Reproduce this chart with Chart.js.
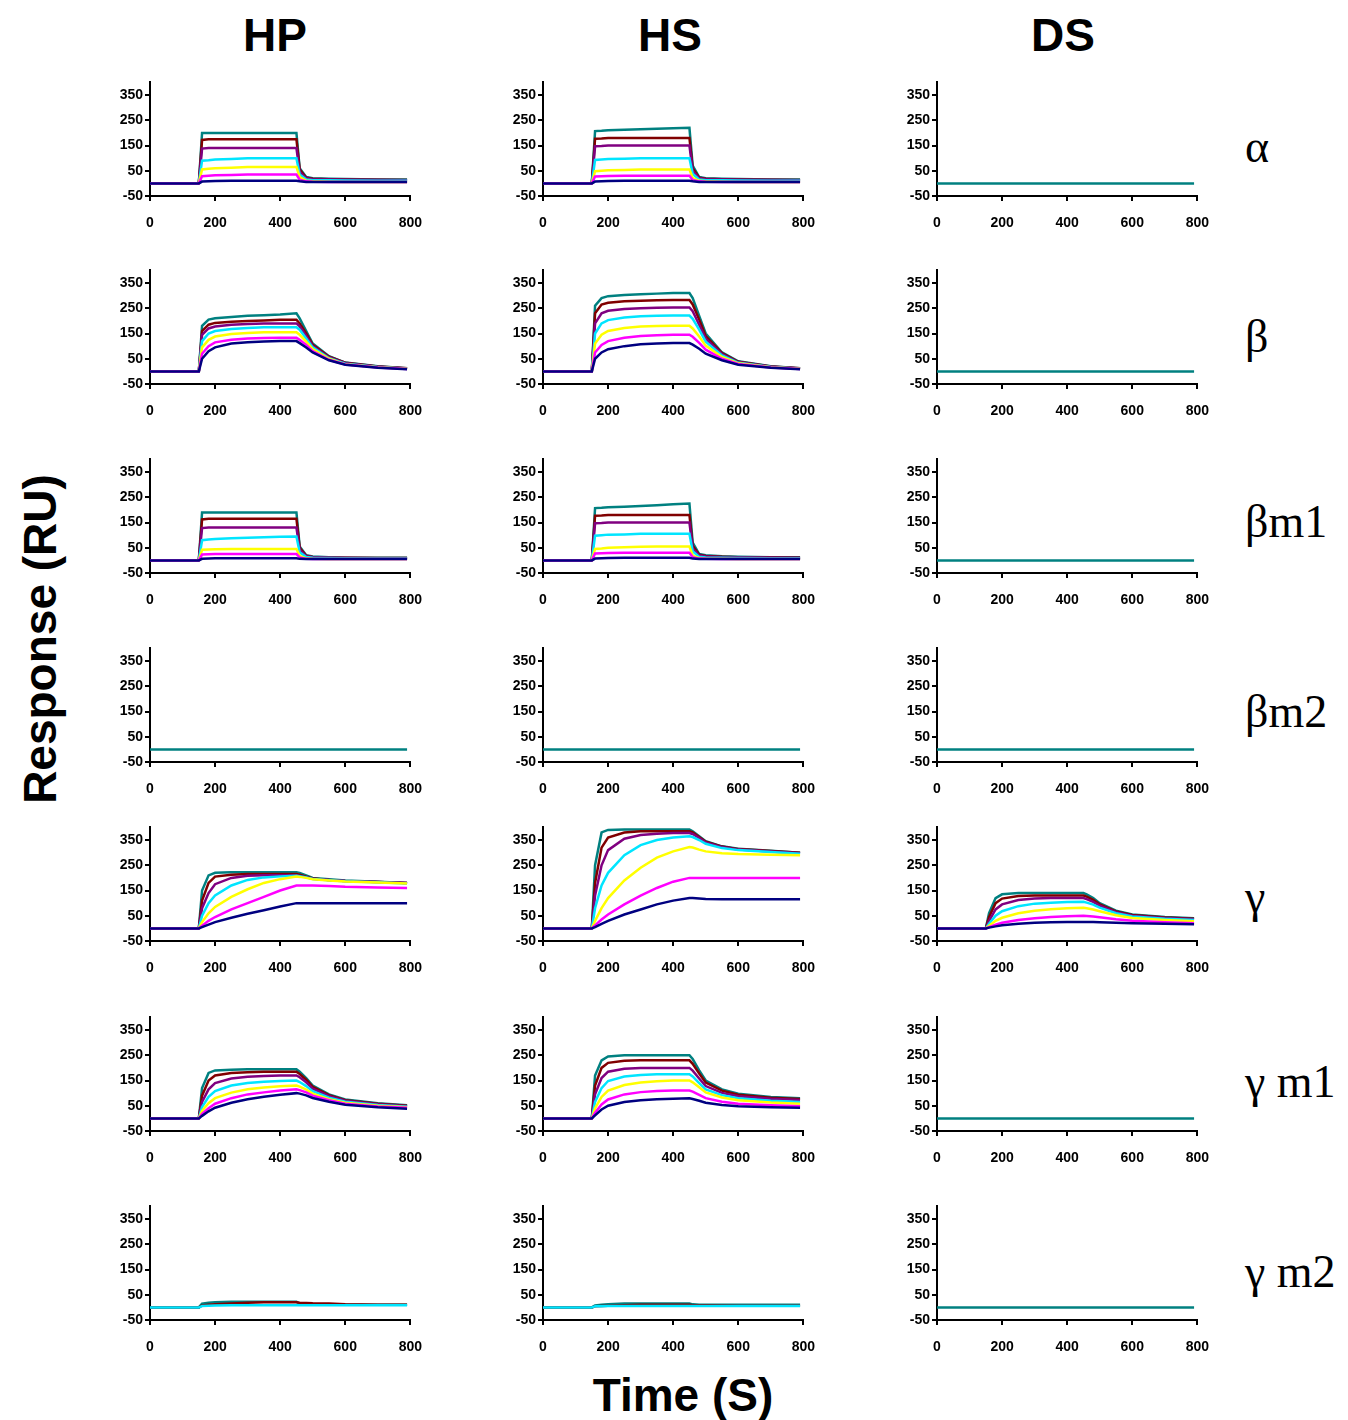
<!DOCTYPE html>
<html><head><meta charset="utf-8">
<script src="https://cdn.jsdelivr.net/npm/chart.js@4"></script>
<style>
body{margin:0;background:#fff;width:1348px;height:1420px;position:relative;overflow:hidden;font-family:"Liberation Sans",Arial,sans-serif}
canvas{position:absolute}
.t{position:absolute;font-weight:bold;font-size:46px;text-align:center;white-space:nowrap}
.g{position:absolute;font-family:"Liberation Serif","Times New Roman",serif;font-size:46px;white-space:nowrap}
</style></head><body>
<div class="t" style="left:195px;top:8px;width:160px">HP</div>
<div class="t" style="left:590px;top:8px;width:160px">HS</div>
<div class="t" style="left:983px;top:8px;width:160px">DS</div>
<div class="t" style="left:-170px;top:612px;width:420px;transform:rotate(-90deg)">Response (RU)</div>
<div class="t" style="left:533px;top:1368px;width:300px">Time (S)</div>
<script>
const T = [0,150,160,180,200,250,300,350,400,450,460,480,500,550,600,700,790];
const xTicks = [0,200,400,600,800];
const yTicks = [-50,50,150,250,350];
const colors = ['#008080','#800000','#800080','#00e5ff','#ffff00','#ff00ff','#000080'];
const rowLabels = ['α','β','βm1','βm2','γ','γ m1','γ m2'];
const flat = [[0,0,0,0,0,0,0,0,0,0,0,0,0,0,0,0,0]];

const alphaHP = [
 [0,0,200,200,200,200,200,200,200,200,60,25,20,18,17,15,15],
 [0,0,172,175,175,175,175,175,175,175,55,22,18,16,15,14,13],
 [0,0,138,140,140,140,140,140,140,140,45,20,16,15,14,13,12],
 [0,0,90,92,95,97,100,100,100,100,35,15,12,12,11,10,10],
 [0,0,55,58,60,62,65,65,65,65,25,10,8,6,5,5,5],
 [0,0,28,30,32,33,35,35,35,35,15,8,6,5,5,5,5],
 [0,0,7,8,9,10,10,10,10,10,8,5,5,5,5,5,5]];
const alphaHS = [
 [0,0,207,208,210,212,214,216,218,220,70,25,20,18,17,15,15],
 [0,0,177,178,180,180,180,180,180,180,60,22,18,16,15,14,13],
 [0,0,147,148,150,150,150,150,150,150,50,20,16,15,14,13,12],
 [0,0,93,95,97,98,100,100,100,100,38,15,12,12,11,10,10],
 [0,0,48,50,52,53,55,55,55,55,22,10,8,6,5,5,5],
 [0,0,27,28,29,30,30,30,30,30,14,8,6,5,5,5,5],
 [0,0,7,8,9,10,10,10,10,10,8,5,5,5,5,5,5]];
const betaHP = [
 [0,0,180,205,210,215,220,222,225,230,210,160,110,60,35,20,12],
 [0,0,160,185,192,197,200,202,205,205,190,150,105,58,34,19,12],
 [0,0,145,170,178,185,188,190,190,190,178,140,100,55,32,18,11],
 [0,0,120,150,160,168,172,175,175,175,165,130,95,52,30,17,10],
 [0,0,95,125,138,148,152,155,155,155,145,118,88,50,28,16,10],
 [0,0,70,100,115,125,130,132,133,133,125,105,80,46,27,15,9],
 [0,0,50,80,95,110,115,118,120,120,112,95,75,44,26,14,8]];
const betaHS = [
 [0,0,260,290,298,303,306,308,310,310,290,220,150,75,40,20,12],
 [0,0,230,265,272,278,280,282,283,283,265,205,140,72,38,19,12],
 [0,0,190,230,240,247,250,252,253,253,238,185,130,68,36,18,11],
 [0,0,150,190,203,213,218,220,221,221,208,165,118,63,34,17,10],
 [0,0,110,145,160,172,178,180,181,181,170,138,102,57,32,16,10],
 [0,0,75,105,120,133,140,143,145,145,137,113,86,50,29,15,9],
 [0,0,50,75,88,100,107,110,112,112,106,90,70,44,26,14,8]];
const betam1HP = [
 [0,0,190,190,190,190,190,190,190,190,55,20,15,12,10,10,10],
 [0,0,162,165,165,165,165,165,165,165,50,18,13,11,10,9,9],
 [0,0,128,130,130,130,130,130,130,130,42,16,12,10,9,8,8],
 [0,0,80,83,85,88,90,92,94,95,32,13,10,9,8,7,7],
 [0,0,42,43,44,45,45,45,45,45,18,8,6,5,5,5,5],
 [0,0,23,24,25,25,25,25,25,25,12,6,5,5,5,5,5],
 [0,0,6,7,8,8,8,8,8,8,6,5,5,5,5,5,5]];
const betam1HS = [
 [0,0,207,208,210,212,215,218,222,225,70,25,20,16,14,12,12],
 [0,0,177,178,180,180,180,180,180,180,58,22,17,14,12,11,10],
 [0,0,147,148,150,150,150,150,150,150,48,19,15,12,11,10,9],
 [0,0,98,100,102,103,105,105,105,105,36,14,11,10,9,8,8],
 [0,0,45,47,50,52,54,55,55,55,20,9,7,6,5,5,5],
 [0,0,27,28,29,30,30,30,30,30,13,7,6,5,5,5,5],
 [0,0,7,8,9,10,10,10,10,10,7,5,5,5,5,5,5]];
const gammaHP = [
 [0,0,150,210,220,222,222,222,222,222,220,210,200,195,190,185,180],
 [0,0,110,180,205,212,215,215,215,215,213,205,198,192,188,184,180],
 [0,0,80,140,175,200,208,210,210,210,208,203,197,192,188,184,180],
 [0,0,50,100,130,170,192,202,206,208,207,202,196,191,187,183,178],
 [0,0,25,60,85,125,155,180,195,205,204,200,195,190,186,182,178],
 [0,0,10,30,45,75,100,125,150,170,170,170,170,168,165,162,160],
 [0,0,5,15,25,42,58,72,87,100,100,100,100,100,100,100,100]];
const gammaHS = [
 [0,0,250,380,390,392,392,392,392,392,385,365,345,325,315,308,300],
 [0,0,180,320,360,380,385,385,385,385,380,362,343,324,314,307,300],
 [0,0,130,250,310,355,370,375,378,378,374,358,340,322,312,305,298],
 [0,0,80,170,220,290,330,350,360,365,362,350,335,318,310,303,296],
 [0,0,30,80,120,190,240,280,305,322,320,312,305,298,295,292,290],
 [0,0,12,35,55,95,130,160,185,200,200,200,200,200,200,200,200],
 [0,0,5,18,30,55,75,95,110,120,120,118,116,115,115,115,115]];
const gammaDS = [
 [0,0,60,120,135,140,140,140,140,140,135,120,100,70,55,45,40],
 [0,0,45,100,118,128,130,130,130,130,126,113,95,67,53,43,38],
 [0,0,30,75,95,112,118,120,120,120,116,105,90,64,50,41,36],
 [0,0,18,50,68,88,98,102,104,105,102,94,82,60,47,38,33],
 [0,0,10,30,42,60,70,76,80,82,80,75,68,52,41,33,28],
 [0,0,5,15,22,33,40,45,48,50,49,47,44,36,30,24,20],
 [0,0,3,8,12,18,22,24,25,25,25,25,24,22,20,18,16]];
const gammam1HP = [
 [0,0,120,180,190,193,195,195,195,195,185,160,130,95,75,60,52],
 [0,0,90,150,170,180,183,185,185,185,176,153,125,92,72,58,50],
 [0,0,65,115,140,158,165,168,170,170,163,143,118,88,70,56,48],
 [0,0,45,85,108,130,140,145,148,150,144,128,108,82,66,53,46],
 [0,0,30,60,80,102,115,122,127,130,126,114,98,76,62,50,44],
 [0,0,18,40,58,80,95,103,110,115,112,103,90,72,58,47,42],
 [0,0,10,28,42,62,76,86,94,100,98,91,81,66,54,44,38]];
const gammam1HS = [
 [0,0,170,230,245,250,250,250,250,250,235,190,150,115,98,85,80],
 [0,0,130,200,220,228,230,230,230,230,216,178,142,110,94,82,77],
 [0,0,95,160,185,197,200,200,200,200,189,158,128,101,88,78,73],
 [0,0,65,120,148,166,172,175,175,175,166,140,115,92,80,70,65],
 [0,0,40,85,110,132,142,147,150,150,143,123,103,83,72,63,58],
 [0,0,22,55,75,95,104,108,110,110,106,93,80,66,58,52,48],
 [0,0,12,35,50,65,72,76,78,80,77,70,62,53,48,44,42]];
const gammam2HP = [
 [0,0,15,18,20,22,22,22,22,22,15,12,10,10,10,10,10],
 [0,0,8,10,12,15,18,20,20,20,18,17,16,15,12,10,10],
 [0,0,5,6,7,8,8,8,8,8,8,8,8,8,8,8,8]];
const gammam2HS = [
 [0,0,8,10,12,15,15,15,15,15,12,10,10,10,10,10,10],
 [0,0,4,5,6,8,10,10,10,10,8,8,8,7,6,6,6],
 [0,0,4,4,5,5,5,5,5,5,5,5,5,5,5,5,5]];

const grid = [
 [alphaHP, alphaHS, flat],
 [betaHP, betaHS, flat],
 [betam1HP, betam1HS, flat],
 [flat, flat, flat],
 [gammaHP, gammaHS, gammaDS],
 [gammam1HP, gammam1HS, flat],
 [gammam2HP, gammam2HS, flat]];
const colX = [150, 543, 937];
const rowBase = [196, 384, 573, 762, 941, 1131, 1320];
const labelY = [150, 340, 525, 715, 900, 1085, 1275];

const tickFont = {family: '"Liberation Sans", Arial', size: 14, weight: 'bold'};
grid.forEach(function (row, r) {
  const lab = document.createElement('div');
  lab.className = 'g';
  lab.style.left = '1245px';
  lab.style.top = (labelY[r] - 30) + 'px';
  lab.textContent = rowLabels[r];
  document.body.appendChild(lab);
  row.forEach(function (curves, c) {
    const cv = document.createElement('canvas');
    cv.width = 334; cv.height = 160;
    cv.style.left = (colX[c] - 48) + 'px';
    cv.style.top = (rowBase[r] - 124) + 'px';
    document.body.appendChild(cv);
    const sets = curves.map(function (ys, i) {
      const col = curves.length === 1 ? colors[0] : (curves.length === 3 ? [colors[0], colors[1], colors[3]][i] : colors[i]);
      return {data: ys.map(function (y, k) { return {x: T[k], y: y}; }),
        borderColor: col, borderWidth: 2.5, pointRadius: 0, tension: 0, fill: false};
    }).reverse();
    new Chart(cv, {
      type: 'line',
      data: {datasets: sets},
      options: {
        responsive: false, animation: false, devicePixelRatio: 1,
        layout: {padding: {top: 6, right: 12}},
        plugins: {legend: {display: false}, tooltip: {enabled: false}},
        scales: {
          x: {type: 'linear', min: 0, max: 800,
            afterBuildTicks: function (a) { a.ticks = xTicks.map(function (v) { return {value: v}; }); },
            afterFit: function (a) { a.height = 36; },
            grid: {drawOnChartArea: false, tickLength: 5, color: '#000', lineWidth: 2},
            border: {color: '#000', width: 2},
            ticks: {color: '#000', font: tickFont, maxRotation: 0, padding: 14}},
          y: {min: -50, max: 400,
            afterBuildTicks: function (a) { a.ticks = yTicks.map(function (v) { return {value: v}; }); },
            afterFit: function (a) { a.width = 48; },
            grid: {drawOnChartArea: false, tickLength: 5, color: '#000', lineWidth: 2},
            border: {color: '#000', width: 2},
            ticks: {color: '#000', font: tickFont, padding: 2}}
        }
      }
    });
  });
});
</script>
</body></html>
